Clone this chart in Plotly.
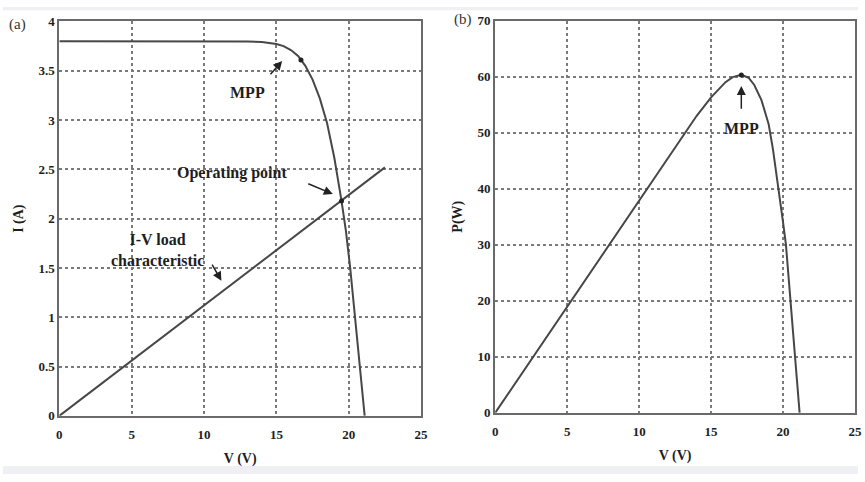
import plotly.graph_objects as go

# I-V characteristic of the PV module
iv_v = [0, 5, 10, 12, 13, 14, 14.5, 15, 15.5, 16, 16.5, 16.7, 17, 17.5, 18, 18.5, 19, 19.5, 19.8, 20.1, 20.4, 20.8, 21.1]
iv_i = [3.8, 3.8, 3.8, 3.8, 3.798, 3.792, 3.785, 3.772, 3.75, 3.71, 3.65, 3.61, 3.55, 3.41, 3.22, 2.97, 2.62, 2.18, 1.88, 1.5, 1.05, 0.5, 0.0]
# I-V load characteristic (straight line)
load_v = [0, 22.5]
load_i = [0, 2.52]
# points
mpp_iv = (16.7, 3.61)
op_pt = (19.5, 2.18)
# P-V characteristic
pv_v = [0, 5, 10, 12, 13, 14, 15, 16, 16.5, 17.1, 17.6, 18, 18.5, 19, 19.3, 19.7, 20, 20.2, 20.5, 20.8, 21.15]
pv_p = [0, 19, 38, 45.5, 49.3, 53, 56.3, 59, 59.9, 60.3, 59.8, 58.5, 55.8, 51.5, 47, 40, 34, 30, 20, 10, 0]
mpp_pv = (17.1, 60.3)

x_ticks = [0, 5, 10, 15, 20, 25]
i_ticks = [0, 0.5, 1, 1.5, 2, 2.5, 3, 3.5, 4]
p_ticks = [0, 10, 20, 30, 40, 50, 60, 70]

LINE = "#474747"
FONT = "Liberation Serif"

fig = go.Figure()
fig.add_trace(go.Scatter(x=iv_v, y=iv_i, mode="lines", line=dict(color=LINE, width=2),
                         xaxis="x", yaxis="y", showlegend=False))
fig.add_trace(go.Scatter(x=load_v, y=load_i, mode="lines", line=dict(color=LINE, width=2),
                         xaxis="x", yaxis="y", showlegend=False))
fig.add_trace(go.Scatter(x=[mpp_iv[0], op_pt[0]], y=[mpp_iv[1], op_pt[1]], mode="markers",
                         marker=dict(color="#222", size=5), xaxis="x", yaxis="y", showlegend=False))
fig.add_trace(go.Scatter(x=pv_v, y=pv_p, mode="lines", line=dict(color=LINE, width=2),
                         xaxis="x2", yaxis="y2", showlegend=False))
fig.add_trace(go.Scatter(x=[mpp_pv[0]], y=[mpp_pv[1]], mode="markers",
                         marker=dict(color="#222", size=5), xaxis="x2", yaxis="y2", showlegend=False))

axis_common = dict(showgrid=True, gridcolor="#7a7a7a", griddash="dot", gridwidth=1.6,
                   showline=True, linecolor="#6a6a6a", linewidth=2, mirror=True,
                   zeroline=False, ticks="", tickfont=dict(family=FONT, size=13, color="#1e1e1e"),
                   title_font=dict(family=FONT, size=14, color="#1e1e1e"))

fig.update_layout(
    width=865, height=482,
    margin=dict(l=0, r=0, t=0, b=0),
    paper_bgcolor="white", plot_bgcolor="white",
    xaxis=dict(domain=[0.0659, 0.489], range=[0, 25], tickvals=x_ticks,
               ticktext=[("<b>%g</b>" % t) for t in x_ticks], ticklabelstandoff=6,
               title=dict(text="<b>V (V)</b>", standoff=12), anchor="y", **axis_common),
    yaxis=dict(domain=[0.1245, 0.969], range=[0, 4], tickvals=i_ticks,
               ticktext=[("<b>%g</b>" % t) for t in i_ticks],
               title=dict(text="<b>I (A)</b>", standoff=12), anchor="x", **axis_common),
    xaxis2=dict(domain=[0.5757, 0.9965], range=[0, 25], tickvals=x_ticks,
                ticktext=[("<b>%g</b>" % t) for t in x_ticks], ticklabelstandoff=6,
                title=dict(text="<b>V (V)</b>", standoff=12), anchor="y2", **axis_common),
    yaxis2=dict(domain=[0.131, 0.971], range=[0, 70], tickvals=p_ticks,
                ticktext=[("<b>%g</b>" % t) for t in p_ticks],
                title=dict(text="<b>P(W)</b>", standoff=12), anchor="x2", **axis_common),
)

ann = []
tf = dict(family=FONT, size=16, color="#1e1e1e")
# panel labels
ann.append(dict(text="(a)", x=0.005, y=0.985, xref="paper", yref="paper", xanchor="left", yanchor="top",
                showarrow=False, font=dict(family=FONT, size=15, color="#333")))
ann.append(dict(text="(b)", x=0.525, y=0.995, xref="paper", yref="paper", xanchor="left", yanchor="top",
                showarrow=False, font=dict(family=FONT, size=15, color="#333")))
# left annotations
ann.append(dict(text="<b>MPP</b>", x=13.0, y=3.28, xref="x", yref="y", showarrow=False, font=tf))
ann.append(dict(x=15.4, y=3.6, ax=14.5, ay=3.45, xref="x", yref="y", axref="x", ayref="y",
                showarrow=True, arrowhead=2, arrowsize=1.2, arrowwidth=1.5, arrowcolor="#222", text=""))
ann.append(dict(text="<b>Operating point</b>", x=11.9, y=2.46, xref="x", yref="y", showarrow=False, font=tf))
ann.append(dict(x=18.9, y=2.25, ax=17.1, ay=2.36, xref="x", yref="y", axref="x", ayref="y",
                showarrow=True, arrowhead=2, arrowsize=1.2, arrowwidth=1.5, arrowcolor="#222", text=""))
ann.append(dict(text="<b>I-V load<br>characteristic</b>", x=6.8, y=1.68, xref="x", yref="y", showarrow=False,
                font=tf, align="center"))
ann.append(dict(x=11.2, y=1.37, ax=10.5, ay=1.55, xref="x", yref="y", axref="x", ayref="y",
                showarrow=True, arrowhead=2, arrowsize=1.2, arrowwidth=1.5, arrowcolor="#222", text=""))
# right annotations
ann.append(dict(text="<b>MPP</b>", x=17.1, y=50.8, xref="x2", yref="y2", showarrow=False, font=tf))
ann.append(dict(x=17.1, y=58.3, ax=17.1, ay=54.0, xref="x2", yref="y2", axref="x2", ayref="y2",
                showarrow=True, arrowhead=2, arrowsize=1.2, arrowwidth=1.5, arrowcolor="#222", text=""))
fig.update_layout(annotations=ann)

# light grey border strips of the original image
fig.update_layout(shapes=[
    dict(type="rect", xref="paper", yref="paper", x0=0, x1=1, y0=0, y1=0.017,
         fillcolor="#eef0f3", line=dict(width=0), layer="below"),
    dict(type="rect", xref="paper", yref="paper", x0=0, x1=1, y0=0.993, y1=1,
         fillcolor="#eef0f3", line=dict(width=0), layer="below"),
])

fig.write_html("out.html")
